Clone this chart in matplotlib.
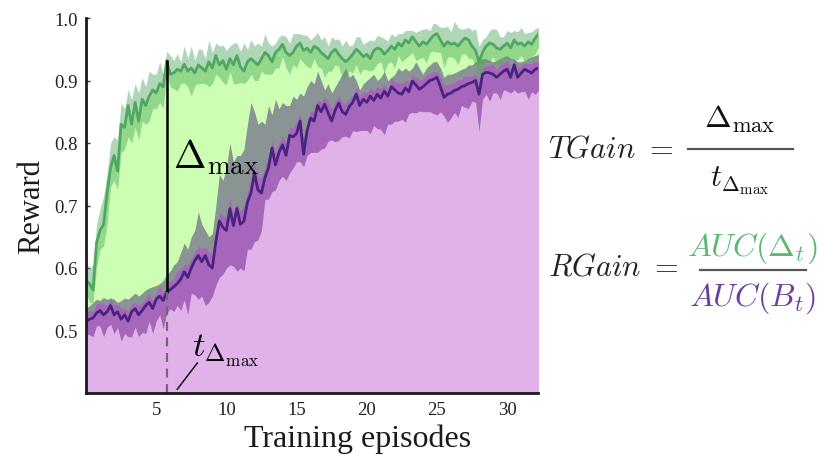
import numpy as np
import matplotlib
matplotlib.use('Agg')
import matplotlib.pyplot as plt
from matplotlib.lines import Line2D

plt.rcParams['font.family'] = ['Liberation Serif', 'DejaVu Serif']
plt.rcParams['mathtext.fontset'] = 'cm'

# ---------------- data ----------------
n_points = 130
episodes = np.arange(n_points) * 0.25

green_mean = [
    0.58, 0.575, 0.565, 0.64, 0.66, 0.67, 0.72, 0.76,
    0.78, 0.755, 0.83, 0.825, 0.86, 0.83, 0.865, 0.835,
    0.87, 0.86, 0.875, 0.885, 0.88, 0.895, 0.89, 0.932,
    0.91, 0.912, 0.918, 0.915, 0.926, 0.915, 0.92, 0.912,
    0.925, 0.92, 0.915, 0.93, 0.92, 0.94, 0.925, 0.932,
    0.918, 0.935, 0.925, 0.94, 0.922, 0.915, 0.93, 0.935,
    0.93, 0.925, 0.935, 0.945, 0.94, 0.93, 0.945, 0.95,
    0.958, 0.945, 0.94, 0.945, 0.955, 0.96, 0.948, 0.952,
    0.945, 0.955, 0.952, 0.945, 0.94, 0.935, 0.945, 0.95,
    0.942, 0.935, 0.93, 0.935, 0.942, 0.95, 0.945, 0.938,
    0.942, 0.935, 0.948, 0.952, 0.95, 0.942, 0.948, 0.955,
    0.95, 0.96, 0.955, 0.965, 0.96, 0.97, 0.962, 0.955,
    0.962, 0.958, 0.965, 0.972, 0.975, 0.965, 0.955, 0.962,
    0.958, 0.96, 0.955, 0.962, 0.968, 0.965, 0.955, 0.948,
    0.93, 0.945, 0.955, 0.96, 0.958, 0.952, 0.95, 0.955,
    0.96, 0.952, 0.965, 0.958, 0.96, 0.955, 0.962, 0.958,
    0.968, 0.975]

green_up = [
    0.03, 0.025, 0.04, 0.03, 0.035, 0.045, 0.03, 0.04,
    0.03, 0.05, 0.035, 0.03, 0.025, 0.04, 0.03, 0.045,
    0.035, 0.03, 0.04, 0.025, 0.03, 0.035, 0.02, 0.015,
    0.03, 0.02, 0.025, 0.015, 0.03, 0.02, 0.035, 0.02,
    0.025, 0.03, 0.02, 0.035, 0.025, 0.02, 0.03, 0.025,
    0.03, 0.02, 0.035, 0.02, 0.025, 0.045, 0.02, 0.03,
    0.025, 0.035, 0.02, 0.03, 0.02, 0.025, 0.015, 0.02,
    0.015, 0.025, 0.02, 0.03, 0.02, 0.015, 0.025, 0.02,
    0.02, 0.015, 0.025, 0.02, 0.03, 0.02, 0.025, 0.015,
    0.025, 0.02, 0.035, 0.02, 0.015, 0.02, 0.025, 0.02,
    0.02, 0.03, 0.015, 0.02, 0.02, 0.025, 0.015, 0.02,
    0.02, 0.015, 0.02, 0.015, 0.02, 0.01, 0.015, 0.025,
    0.02, 0.025, 0.015, 0.02, 0.015, 0.02, 0.03, 0.025,
    0.02, 0.035, 0.03, 0.02, 0.015, 0.02, 0.025, 0.035,
    0.025, 0.02, 0.015, 0.02, 0.025, 0.03, 0.02, 0.015,
    0.02, 0.025, 0.015, 0.02, 0.025, 0.02, 0.015, 0.02,
    0.015, 0.01]

green_dn = [
    0.02, 0.03, 0.02, 0.04, 0.03, 0.035, 0.05, 0.03,
    0.04, 0.03, 0.045, 0.035, 0.05, 0.03, 0.04, 0.03,
    0.035, 0.03, 0.04, 0.03, 0.025, 0.03, 0.035, 0.02,
    0.02, 0.025, 0.035, 0.02, 0.03, 0.025, 0.045, 0.02,
    0.03, 0.025, 0.02, 0.04, 0.025, 0.03, 0.02, 0.035,
    0.025, 0.02, 0.03, 0.045, 0.025, 0.02, 0.03, 0.025,
    0.03, 0.025, 0.02, 0.035, 0.03, 0.02, 0.025, 0.03,
    0.02, 0.025, 0.03, 0.02, 0.035, 0.025, 0.02, 0.03,
    0.025, 0.02, 0.03, 0.025, 0.035, 0.02, 0.03, 0.025,
    0.02, 0.03, 0.025, 0.02, 0.03, 0.025, 0.035, 0.02,
    0.025, 0.02, 0.03, 0.025, 0.02, 0.03, 0.02, 0.025,
    0.03, 0.02, 0.025, 0.03, 0.02, 0.025, 0.03, 0.02,
    0.025, 0.03, 0.02, 0.025, 0.03, 0.02, 0.035, 0.025,
    0.02, 0.025, 0.03, 0.02, 0.025, 0.03, 0.02, 0.025,
    0.03, 0.02, 0.025, 0.03, 0.02, 0.025, 0.03, 0.02,
    0.025, 0.02, 0.03, 0.025, 0.02, 0.025, 0.03, 0.02,
    0.025, 0.02]

gray_top = [
    0.535, 0.54, 0.545, 0.55, 0.548, 0.553, 0.55, 0.552,
    0.55, 0.545, 0.548, 0.552, 0.55, 0.555, 0.56, 0.555,
    0.56, 0.565, 0.568, 0.57, 0.572, 0.575, 0.58, 0.59,
    0.595, 0.605, 0.61, 0.625, 0.64, 0.63, 0.65, 0.66,
    0.69, 0.67, 0.66, 0.65, 0.655, 0.70, 0.75, 0.74,
    0.76, 0.80, 0.77, 0.78, 0.78, 0.79, 0.83, 0.865,
    0.85, 0.83, 0.835, 0.83, 0.86, 0.845, 0.87, 0.855,
    0.865, 0.86, 0.86, 0.875, 0.87, 0.88, 0.875, 0.89,
    0.90, 0.895, 0.915, 0.90, 0.885, 0.895, 0.88, 0.89,
    0.90, 0.91, 0.92, 0.905, 0.91, 0.90, 0.885, 0.895,
    0.90, 0.905, 0.91, 0.90, 0.905, 0.915, 0.90, 0.905,
    0.91, 0.92, 0.915, 0.92, 0.915, 0.92, 0.93, 0.92,
    0.91, 0.92, 0.925, 0.93, 0.93, 0.92, 0.905, 0.91,
    0.91, 0.912, 0.915, 0.918, 0.92, 0.925, 0.925, 0.93,
    0.935, 0.935, 0.935, 0.932, 0.93, 0.932, 0.935, 0.938,
    0.94, 0.935, 0.935, 0.93, 0.93, 0.932, 0.935, 0.938,
    0.94, 0.942]

purple_mean = [
    0.515, 0.518, 0.52, 0.528, 0.532, 0.525, 0.53, 0.54,
    0.525, 0.53, 0.518, 0.525, 0.515, 0.53, 0.535, 0.525,
    0.532, 0.54, 0.545, 0.535, 0.55, 0.555, 0.548, 0.562,
    0.565, 0.57, 0.575, 0.582, 0.594, 0.585, 0.60, 0.612,
    0.62, 0.61, 0.62, 0.605, 0.60, 0.642, 0.675, 0.665,
    0.66, 0.695, 0.668, 0.695, 0.67, 0.675, 0.705, 0.72,
    0.752, 0.725, 0.72, 0.745, 0.76, 0.792, 0.765, 0.785,
    0.797, 0.78, 0.812, 0.81, 0.815, 0.835, 0.782, 0.82,
    0.84, 0.835, 0.86, 0.85, 0.862, 0.848, 0.835, 0.852,
    0.864, 0.85, 0.846, 0.858, 0.865, 0.878, 0.86, 0.87,
    0.865, 0.875, 0.868, 0.878, 0.872, 0.883, 0.875, 0.89,
    0.885, 0.88, 0.878, 0.888, 0.882, 0.899, 0.893, 0.886,
    0.89, 0.895, 0.90, 0.902, 0.905, 0.89, 0.873, 0.878,
    0.88, 0.884, 0.886, 0.89, 0.892, 0.895, 0.897, 0.90,
    0.878, 0.91, 0.913, 0.912, 0.91, 0.905, 0.91, 0.915,
    0.918, 0.905, 0.925, 0.905, 0.912, 0.918, 0.915, 0.912,
    0.918, 0.92]

purple_up = [
    0.012, 0.015, 0.01, 0.015, 0.012, 0.018, 0.01, 0.012,
    0.015, 0.012, 0.018, 0.01, 0.015, 0.012, 0.01, 0.015,
    0.012, 0.01, 0.015, 0.012, 0.01, 0.015, 0.012, 0.01,
    0.015, 0.012, 0.02, 0.015, 0.012, 0.02, 0.015, 0.012,
    0.015, 0.02, 0.015, 0.02, 0.025, 0.015, 0.012, 0.02,
    0.02, 0.015, 0.02, 0.012, 0.02, 0.025, 0.015, 0.02,
    0.015, 0.02, 0.025, 0.015, 0.02, 0.012, 0.02, 0.015,
    0.015, 0.02, 0.012, 0.015, 0.02, 0.012, 0.025, 0.015,
    0.012, 0.015, 0.01, 0.015, 0.012, 0.018, 0.02, 0.015,
    0.012, 0.015, 0.018, 0.012, 0.01, 0.012, 0.015, 0.012,
    0.015, 0.012, 0.015, 0.012, 0.015, 0.012, 0.01, 0.015,
    0.012, 0.015, 0.018, 0.012, 0.015, 0.01, 0.012, 0.015,
    0.012, 0.015, 0.01, 0.012, 0.01, 0.015, 0.02, 0.015,
    0.015, 0.012, 0.015, 0.012, 0.015, 0.012, 0.01, 0.012,
    0.02, 0.01, 0.01, 0.012, 0.015, 0.012, 0.015, 0.012,
    0.015, 0.012, 0.01, 0.015, 0.012, 0.01, 0.012, 0.015,
    0.012, 0.01]

purple_dn = [
    0.02, 0.025, 0.03, 0.02, 0.025, 0.035, 0.025, 0.03,
    0.03, 0.025, 0.035, 0.03, 0.025, 0.04, 0.03, 0.035,
    0.035, 0.045, 0.03, 0.04, 0.035, 0.03, 0.045, 0.035,
    0.03, 0.04, 0.035, 0.05, 0.045, 0.06, 0.04, 0.055,
    0.07, 0.055, 0.08, 0.06, 0.045, 0.07, 0.09, 0.075,
    0.06, 0.09, 0.065, 0.10, 0.07, 0.08, 0.075, 0.09,
    0.11, 0.08, 0.06, 0.035, 0.05, 0.07, 0.04, 0.045,
    0.05, 0.04, 0.06, 0.05, 0.045, 0.065, 0.02, 0.04,
    0.055, 0.05, 0.075, 0.06, 0.07, 0.045, 0.03, 0.05,
    0.06, 0.04, 0.035, 0.05, 0.045, 0.06, 0.04, 0.05,
    0.045, 0.06, 0.04, 0.055, 0.05, 0.07, 0.045, 0.06,
    0.05, 0.045, 0.04, 0.055, 0.035, 0.05, 0.045, 0.035,
    0.04, 0.045, 0.05, 0.055, 0.06, 0.04, 0.03, 0.045,
    0.04, 0.035, 0.045, 0.03, 0.035, 0.04, 0.03, 0.035,
    0.06, 0.04, 0.035, 0.045, 0.03, 0.025, 0.04, 0.03,
    0.035, 0.025, 0.04, 0.025, 0.03, 0.035, 0.045, 0.03,
    0.04, 0.035]

x_ticks = [5, 10, 15, 20, 25, 30]
y_ticks = [0.5, 0.6, 0.7, 0.8, 0.9, 1.0]
y_tick_labels = ['0.5', '0.6', '0.7', '0.8', '0.9', '1.0']

# ---------------- colours ----------------
C_LIGHTGREEN = '#ccffb3'
C_GREEN = '#4fa860'
C_GRAY = '#8b9494'
C_PURPLE_BAND = '#a666bb'
C_PINK = '#e1b1e9'
C_PURPLE_LINE = '#4a2280'
C_TXT_GREEN = '#5cb870'
C_TXT_PURPLE = '#6a3d9e'

gm = np.array(green_mean)
pm = np.array(purple_mean)
g_lo = gm - np.array(green_dn)
g_hi = gm + np.array(green_up)
p_lo = pm - np.array(purple_dn)
p_hi = pm + np.array(purple_up)

W, H = 820, 456
fig = plt.figure(figsize=(W / 100, H / 100), dpi=100)
ax = fig.add_axes([86 / W, 1 - 394 / H, (538 - 86) / W, (394 - 19) / H])
ax.set_xlim(0, 32.2)
ax.set_ylim(0.4, 1.0)
base = 0.4

ax.fill_between(episodes, base, gm, color=C_LIGHTGREEN, lw=0, zorder=1)
ax.fill_between(episodes, base, gray_top, color=C_GRAY, lw=0, zorder=2)
ax.fill_between(episodes, g_lo, g_hi, color=C_GREEN, alpha=0.45, lw=0, zorder=3)
ax.fill_between(episodes, p_lo, p_hi, color=C_PURPLE_BAND, lw=0, zorder=4)
ax.fill_between(episodes, base, p_lo, color=C_PINK, lw=0, zorder=5)
ax.plot(episodes, pm, color=C_PURPLE_LINE, lw=2, zorder=6)
ax.plot(episodes, gm, color=C_GREEN, lw=2, zorder=6)

# Delta_max marker
idx = int(np.argmax(gm - pm))
t_max = episodes[idx]
ax.plot([t_max, t_max], [pm[idx], gm[idx]], color='black', lw=1.8, zorder=7)
ax.plot([t_max, t_max], [base, pm[idx]], color='#6b6b6b', lw=1.6,
        dashes=(4, 3), zorder=7)
ax.text(t_max + 0.45, 0.761, r'$\Delta_{\mathrm{max}}$', fontsize=28,
        ha='left', va='baseline', zorder=8)
ax.text(7.55, 0.459, r'$t_{\Delta_{\mathrm{max}}}$', fontsize=25,
        ha='left', va='baseline', zorder=8)
ax.plot([6.5, 7.93], [0.406, 0.448], color='black', lw=1, zorder=8)

# axes styling
for s in ['top', 'right']:
    ax.spines[s].set_visible(False)
for s in ['left', 'bottom']:
    ax.spines[s].set_color('#1a1a1a')
    ax.spines[s].set_linewidth(2)
    ax.spines[s].set_zorder(10)
ax.set_xticks(x_ticks)
ax.set_xticklabels([str(v) for v in x_ticks])
ax.set_yticks(y_ticks)
ax.set_yticklabels(y_tick_labels)
ax.tick_params(axis='both', direction='in', length=3, width=1,
               colors='#333333', labelsize=13.5, pad=6, labelcolor='#222222')
ax.set_xlabel('Training episodes', fontsize=23, labelpad=4, color='#1a1a1a')
ax.xaxis.label.set_x(0.6)
ax.set_ylabel('Reward', fontsize=22, labelpad=6, color='#1a1a1a')

# right-hand formulas
def fx(px):
    return px / W

def fy(py):
    return 1 - py / H

FS = 22
fig.text(fx(548), fy(158), r'$TGain\ =$', fontsize=FS, ha='left', va='baseline', color='#222222')
fig.text(fx(740), fy(128), r'$\Delta_{\mathrm{max}}$', fontsize=FS + 1, ha='center', va='baseline', color='#111111')
fig.add_artist(Line2D([fx(688), fx(793)], [fy(150), fy(150)], color='#555555', lw=1.6))
fig.text(fx(740), fy(186), r'$t_{\Delta_{\mathrm{max}}}$', fontsize=FS, ha='center', va='baseline', color='#111111')

fig.text(fx(548), fy(276), r'$RGain\ =$', fontsize=FS, ha='left', va='baseline', color='#222222')
fig.text(fx(752), fy(256), r'$AUC(\Delta_t)$', fontsize=FS + 1, ha='center', va='baseline', color=C_TXT_GREEN)
fig.add_artist(Line2D([fx(700), fx(806)], [fy(271), fy(271)], color='#555555', lw=1.6))
fig.text(fx(752), fy(306), r'$AUC(B_t)$', fontsize=FS + 1, ha='center', va='baseline', color=C_TXT_PURPLE)

fig.savefig('out.png', dpi=100)
